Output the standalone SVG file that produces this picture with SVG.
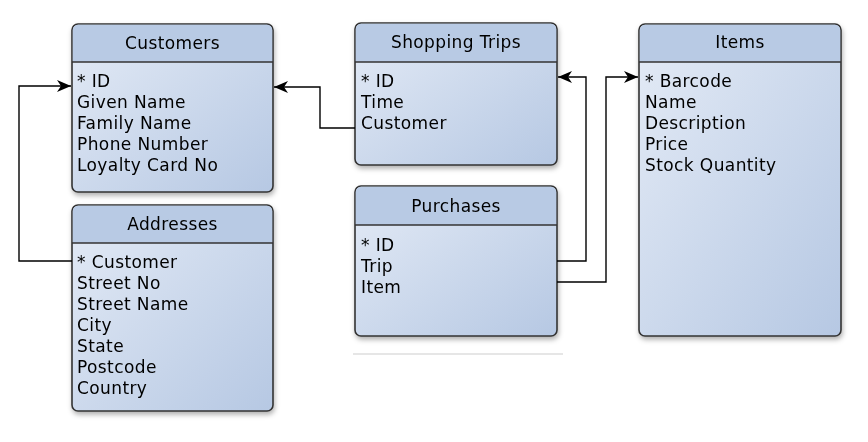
<svg xmlns="http://www.w3.org/2000/svg" width="868" height="442" viewBox="0 0 868 442">
<defs>
<linearGradient id="body" x1="0" y1="0" x2="1" y2="1">
<stop offset="0" stop-color="#e4ebf6"/>
<stop offset="1" stop-color="#b6c8e3"/>
</linearGradient>
<filter id="sh" x="-10%" y="-10%" width="125%" height="125%">
<feDropShadow dx="1" dy="3" stdDeviation="2.5" flood-color="#000" flood-opacity="0.3"/>
</filter>
<marker id="arr" markerWidth="16" markerHeight="14" refX="15" refY="7" orient="auto" markerUnits="userSpaceOnUse">
<path d="M1,1 L15,7 L1,13 L5,7 Z" fill="#000"/>
</marker>
</defs>
<style>
.box{fill:url(#body);stroke:#333;stroke-width:1.6}
.hdr{fill:#b8cae4}
.div{stroke:#333;stroke-width:1.6}
.t{font-family:"DejaVu Sans",sans-serif;font-size:17px;letter-spacing:0.4px;fill:#000}
.title{text-anchor:middle}
.con{fill:none;stroke:#000;stroke-width:1.4}
</style>

<line x1="353" y1="354" x2="563" y2="354" stroke="#dedede" stroke-width="1.5"/>

<g id="customers" filter="url(#sh)">
<rect class="box" x="72" y="24" width="201" height="168" rx="6"/>
<path class="hdr" d="M78,24.8 H267 A5.2,5.2 0 0 1 272.2,30 V62 H72.8 V30 A5.2,5.2 0 0 1 78,24.8 Z"/>
<line class="div" x1="72" y1="62" x2="273" y2="62"/>
<text class="t title" x="172.5" y="49">Customers</text>
<text class="t" x="77" y="87">* ID</text>
<text class="t" x="77" y="108">Given Name</text>
<text class="t" x="77" y="129">Family Name</text>
<text class="t" x="77" y="150">Phone Number</text>
<text class="t" x="77" y="171">Loyalty Card No</text>
</g>

<g id="addresses" filter="url(#sh)">
<rect class="box" x="72" y="205" width="201" height="206" rx="6"/>
<path class="hdr" d="M78,205.8 H267 A5.2,5.2 0 0 1 272.2,211 V243 H72.8 V211 A5.2,5.2 0 0 1 78,205.8 Z"/>
<line class="div" x1="72" y1="243" x2="273" y2="243"/>
<text class="t title" x="172.5" y="230">Addresses</text>
<text class="t" x="77" y="268">* Customer</text>
<text class="t" x="77" y="289">Street No</text>
<text class="t" x="77" y="310">Street Name</text>
<text class="t" x="77" y="331">City</text>
<text class="t" x="77" y="352">State</text>
<text class="t" x="77" y="373">Postcode</text>
<text class="t" x="77" y="394">Country</text>
</g>

<g id="shopping-trips" filter="url(#sh)">
<rect class="box" x="355" y="23" width="202" height="142" rx="6"/>
<path class="hdr" d="M361,23.8 H551 A5.2,5.2 0 0 1 556.2,29 V62 H355.8 V29 A5.2,5.2 0 0 1 361,23.8 Z"/>
<line class="div" x1="355" y1="62" x2="557" y2="62"/>
<text class="t title" x="456" y="48">Shopping Trips</text>
<text class="t" x="361" y="87">* ID</text>
<text class="t" x="361" y="108">Time</text>
<text class="t" x="361" y="129">Customer</text>
</g>

<g id="purchases" filter="url(#sh)">
<rect class="box" x="355" y="186" width="202" height="150" rx="6"/>
<path class="hdr" d="M361,186.8 H551 A5.2,5.2 0 0 1 556.2,192 V225 H355.8 V192 A5.2,5.2 0 0 1 361,186.8 Z"/>
<line class="div" x1="355" y1="225" x2="557" y2="225"/>
<text class="t title" x="456" y="212">Purchases</text>
<text class="t" x="361" y="251">* ID</text>
<text class="t" x="361" y="272">Trip</text>
<text class="t" x="361" y="293">Item</text>
</g>

<g id="items" filter="url(#sh)">
<rect class="box" x="639" y="24" width="202" height="312" rx="6"/>
<path class="hdr" d="M645,24.8 H835 A5.2,5.2 0 0 1 840.2,30 V62 H639.8 V30 A5.2,5.2 0 0 1 645,24.8 Z"/>
<line class="div" x1="639" y1="62" x2="841" y2="62"/>
<text class="t title" x="740" y="48">Items</text>
<text class="t" x="645" y="87">* Barcode</text>
<text class="t" x="645" y="108">Name</text>
<text class="t" x="645" y="129">Description</text>
<text class="t" x="645" y="150">Price</text>
<text class="t" x="645" y="171">Stock Quantity</text>
</g>

<g id="connectors">
<path class="con" d="M72,261 H19 V86 H71" marker-end="url(#arr)"/>
<path class="con" d="M355,128 H320 V87 H274" marker-end="url(#arr)"/>
<path class="con" d="M557,261 H586 V77 H558" marker-end="url(#arr)"/>
<path class="con" d="M557,282 H606 V77 H638" marker-end="url(#arr)"/>
</g>
</svg>
